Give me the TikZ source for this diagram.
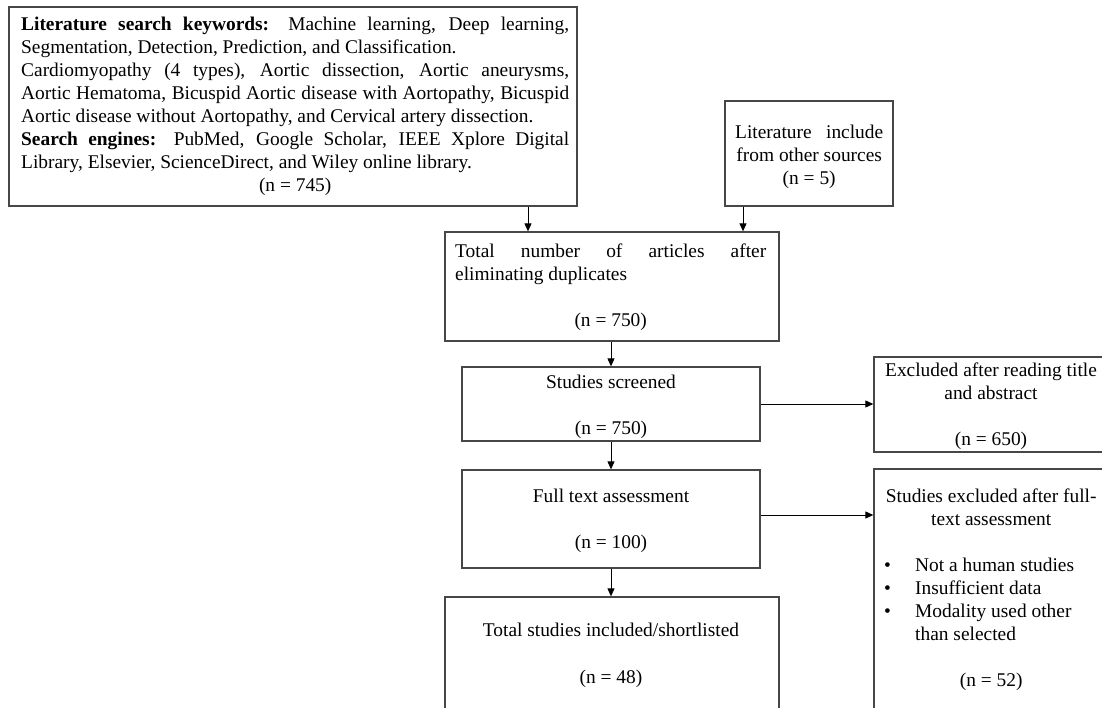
\documentclass[tikz,border=0pt]{standalone}
\usepackage{fontspec}
\setmainfont{Liberation Serif}
\usetikzlibrary{arrows.meta}
\begin{document}
\begin{tikzpicture}[x=1pt,y=-1pt,
  every node/.style={font=\fontsize{19.4}{23}\selectfont},
  box/.style={draw=black!72, line width=1.3pt, inner sep=0pt, rectangle},
  txt/.style={inner sep=0pt, anchor=base west},
  ctxt/.style={inner sep=0pt, anchor=base},
  arr/.style={draw=black, line width=0.9pt, -{Triangle[length=8pt,width=7pt]}}]
\useasboundingbox (0,0) rectangle (1102,707);
\clip (0,0) rectangle (1102,707);
\fill[white] (0,0) rectangle (1102,707);

% boxes
\node[box, minimum width=568pt, minimum height=199pt] (b1) at (293,106.5) {};
\node[box, minimum width=168pt, minimum height=105pt] (b2) at (809,153.5) {};
\node[box, minimum width=334pt, minimum height=109pt] (b3) at (612,286.5) {};
\node[box, minimum width=298pt, minimum height=74pt] (b4) at (611,404) {};
\node[box, minimum width=234pt, minimum height=95pt] (b5) at (991,404.5) {};
\node[box, minimum width=298pt, minimum height=98pt] (b6) at (611,519) {};
\node[box, minimum width=234pt, minimum height=261pt] (b7) at (991,599.5) {};
\node[box, minimum width=334pt, minimum height=133pt] (b8) at (612,663.5) {};

% texts
\node[txt] (t1) at (21,30) {\begin{minipage}[t]{548pt}%
\makebox[548pt][s]{\textbf{Literature search keywords:} Machine learning, Deep learning,}\\
Segmentation, Detection, Prediction, and Classification.\\
\makebox[548pt][s]{Cardiomyopathy (4 types), Aortic dissection, Aortic aneurysms,}\\
\makebox[548pt][s]{Aortic Hematoma, Bicuspid Aortic disease with Aortopathy, Bicuspid}\\
Aortic disease without Aortopathy, and Cervical artery dissection.\\
\makebox[548pt][s]{\textbf{Search engines:} PubMed, Google Scholar, IEEE Xplore Digital}\\
Library, Elsevier, ScienceDirect, and Wiley online library.\\
\makebox[548pt]{(n = 745)}\end{minipage}};

\node[txt] (t2) at (735,138) {\begin{minipage}[t]{148pt}%
\makebox[148pt][s]{Literature include}\\
\makebox[148pt]{from other sources}\\
\makebox[148pt]{(n = 5)}\end{minipage}};

\node[txt] (t3) at (455,257) {\begin{minipage}[t]{311pt}%
\makebox[311pt][s]{Total number of articles after}\\
eliminating duplicates\\[23pt]
\makebox[311pt]{(n = 750)}\end{minipage}};

\node[ctxt] (t4) at (611,388) {\begin{minipage}[t]{290pt}\centering
Studies screened\\[23pt](n = 750)\end{minipage}};

\node[ctxt] (t5) at (991,376) {\begin{minipage}[t]{216pt}\centering
Excluded after reading title\\and abstract\\[23pt](n = 650)\end{minipage}};

\node[ctxt] (t6) at (611,502) {\begin{minipage}[t]{290pt}\centering
Full text assessment\\[23pt](n = 100)\end{minipage}};

\node[txt] (t7) at (884,502) {\begin{minipage}[t]{214pt}%
\centering Studies excluded after full-\\text assessment\par
\vspace{23pt}\raggedright
\makebox[31pt][l]{\textbullet}Not a human studies\\
\makebox[31pt][l]{\textbullet}Insufficient data\\
\makebox[31pt][l]{\textbullet}Modality used other\\
\hspace*{31pt}than selected\par
\vspace{23pt}\centering (n = 52)\par\end{minipage}};

\node[ctxt] (t8) at (611,636) {\begin{minipage}[t]{320pt}\centering
Total studies included/shortlisted\\[24pt](n = 48)\end{minipage}};

% connectors
\coordinate (xa) at (528,0);
\coordinate (xb) at (743,0);
\coordinate (ya) at (0,515);
\draw[arr] (xa |- b1.south) -- (xa |- b3.north);
\draw[arr] (xb |- b2.south) -- (xb |- b3.north);
\draw[arr] (b4.north |- b3.south) -- (b4.north);
\draw[arr] (b4.east) -- (b5.west |- b4.east);
\draw[arr] (b4.south) -- (b6.north);
\draw[arr] (b6.east |- ya) -- (b7.west |- ya);
\draw[arr] (b6.south) -- (b8.north -| b6.south);
\end{tikzpicture}
\end{document}
